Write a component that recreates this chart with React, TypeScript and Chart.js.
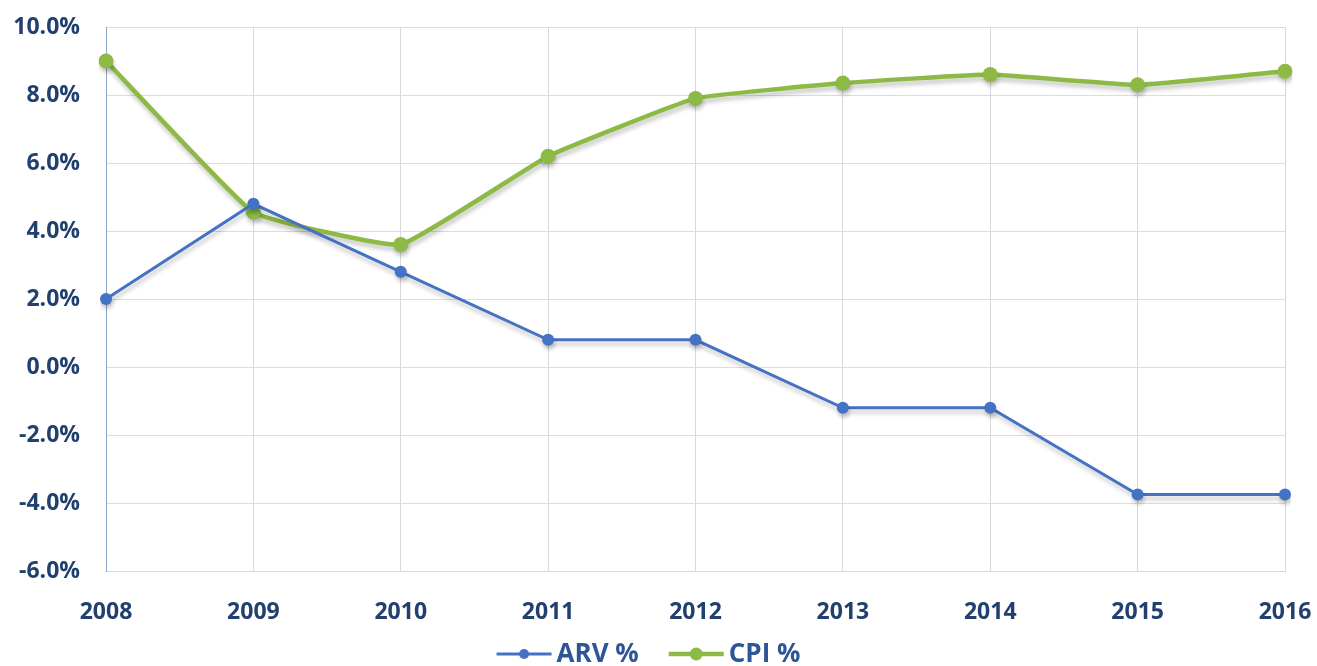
import React, { useEffect, useRef } from "react";
import { Chart, registerables } from "chart.js";

Chart.register(...registerables);

const years = ["2008", "2009", "2010", "2011", "2012", "2013", "2014", "2015", "2016"];
const arvValues = [2.0, 4.8, 2.8, 0.8, 0.8, -1.2, -1.2, -3.75, -3.75];
const cpiValues = [9.0, 4.55, 3.6, 6.2, 7.9, 8.35, 8.6, 8.3, 8.7];
const seriesLabels = ["ARV %", "CPI %"];
const yMin = -6;
const yMax = 10;
const yStep = 2;

const ARV_COLOR = "#4472C4";
const CPI_COLOR = "#8DBA45";
const TEXT_COLOR = "#22406F";
const LEGEND_COLOR = "#2E5597";
const FONT = "'Open Sans', 'Liberation Sans', sans-serif";

const shadowPlugin = {
  id: "lineShadow",
  beforeDatasetsDraw(chart: any) {
    const ctx = chart.ctx;
    ctx.save();
    ctx.shadowColor = "rgba(0,0,0,0.22)";
    ctx.shadowBlur = 4;
    ctx.shadowOffsetX = 1;
    ctx.shadowOffsetY = 4;
  },
  afterDatasetsDraw(chart: any) {
    chart.ctx.restore();
  },
};

// Excel-like legend: line with a dot, then the label
const legendPlugin = {
  id: "excelLegend",
  afterDraw(chart: any) {
    const ctx = chart.ctx;
    const iconW = 55;
    const gapText = 5;
    const gapItem = 30;
    ctx.save();
    ctx.font = `bold 26px ${FONT}`;
    const items = chart.data.datasets.map((d: any) => ({
      label: d.label,
      color: d.borderColor,
      lw: d.borderWidth,
      r: d.pointRadius - 1,
      tw: ctx.measureText(d.label).width,
    }));
    const total = items.reduce((s: number, it: any) => s + iconW + gapText + it.tw, 0) + gapItem * (items.length - 1);
    let x = chart.width / 2 - 10 - total / 2;
    const y = chart.height - 12;
    items.forEach((it: any) => {
      ctx.strokeStyle = it.color;
      ctx.lineWidth = it.lw;
      ctx.beginPath();
      ctx.moveTo(x, y);
      ctx.lineTo(x + iconW, y);
      ctx.stroke();
      ctx.fillStyle = it.color;
      ctx.beginPath();
      ctx.arc(x + iconW / 2, y, it.r, 0, Math.PI * 2);
      ctx.fill();
      x += iconW + gapText;
      ctx.fillStyle = LEGEND_COLOR;
      ctx.textBaseline = "middle";
      ctx.textAlign = "left";
      ctx.fillText(it.label, x, y + 1);
      x += it.tw + gapItem;
    });
    ctx.restore();
  },
};

export default function App() {
  const ref = useRef<HTMLCanvasElement | null>(null);
  useEffect(() => {
    if (!ref.current) return;
    const chart = new Chart(ref.current, {
      type: "line",
      plugins: [shadowPlugin, legendPlugin],
      data: {
        labels: years,
        datasets: [
          {
            label: seriesLabels[0],
            data: arvValues,
            borderColor: ARV_COLOR,
            backgroundColor: ARV_COLOR,
            borderWidth: 3,
            pointRadius: 6,
            pointBorderWidth: 0,
            tension: 0,
          },
          {
            label: seriesLabels[1],
            data: cpiValues,
            borderColor: CPI_COLOR,
            backgroundColor: CPI_COLOR,
            borderWidth: 4.5,
            pointRadius: 7.5,
            pointBorderWidth: 0,
            tension: 0.1,
          },
        ],
      },
      options: {
        animation: false,
        responsive: false,
        maintainAspectRatio: false,
        layout: { padding: { left: 6, right: 0, top: 0, bottom: 43 } },
        plugins: {
          tooltip: { enabled: false },
          legend: { display: false },
        },
        scales: {
          x: {
            grid: { color: "#D9D9D9", lineWidth: 1, drawTicks: false },
            border: { color: "#D9D9D9" },
            ticks: {
              color: TEXT_COLOR,
              font: { family: FONT, size: 23, weight: "bold" },
              padding: 28,
              maxRotation: 0,
            },
            afterFit: (s: any) => {
              s.height = 52;
              s.paddingRight = 32;
              s.paddingLeft = 0;
            },
          },
          y: {
            min: yMin,
            max: yMax,
            grid: { color: "#DCDCDC", lineWidth: 1, drawTicks: false },
            border: { color: "#8EA6C6" },
            ticks: {
              stepSize: yStep,
              color: TEXT_COLOR,
              font: { family: FONT, size: 23, weight: "bold" },
              padding: 26,
              callback: (v: any) => Number(v).toFixed(1) + "%",
            },
            afterFit: (s: any) => {
              s.width = 100;
              s.paddingTop = 27;
              s.paddingBottom = 0;
            },
          },
        },
      },
    });
    return () => chart.destroy();
  }, []);
  return (
    <div style={{ position: "fixed", left: 0, top: 0, width: 1317, height: 666, background: "#fff" }}>
      <canvas ref={ref} width={1317} height={666} style={{ width: 1317, height: 666 }} />
    </div>
  );
}
